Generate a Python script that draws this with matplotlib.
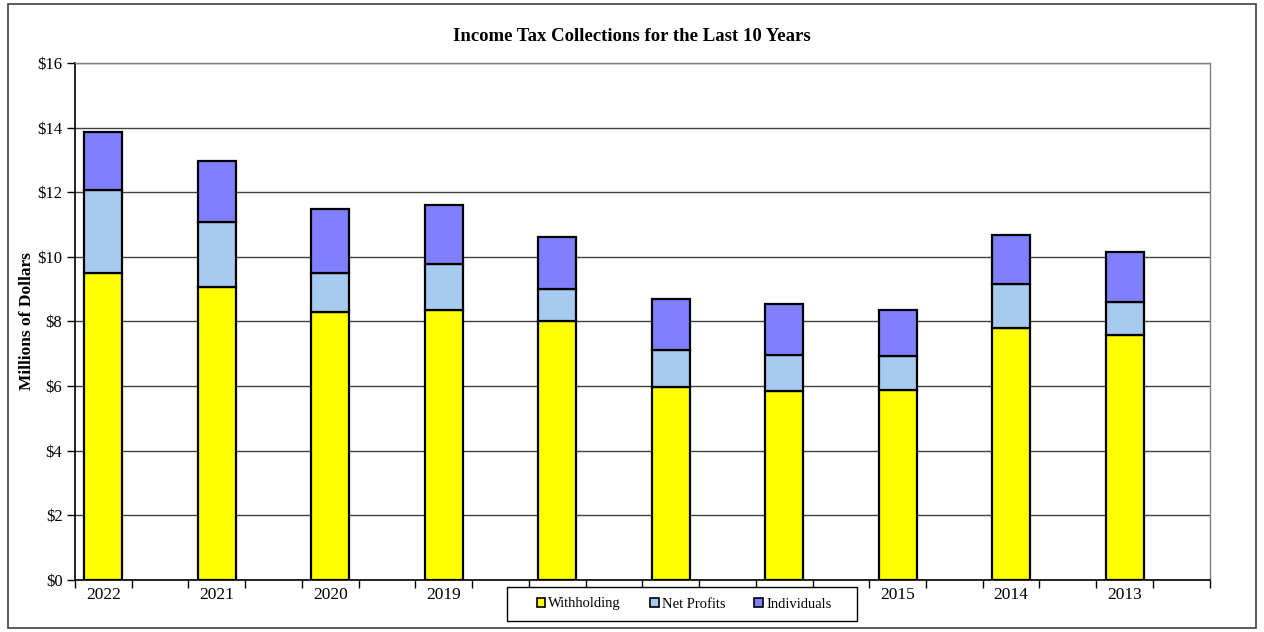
import matplotlib
matplotlib.use("Agg")
import matplotlib.pyplot as plt
import numpy as np
from matplotlib.patches import Rectangle

years = ["2022", "2021", "2020", "2019", "2018", "2017", "2016", "2015", "2014", "2013"]
withholding = [9.50, 9.08, 8.28, 8.36, 8.02, 5.96, 5.86, 5.89, 7.81, 7.59]
net_profits = [2.56, 1.99, 1.23, 1.42, 1.00, 1.15, 1.10, 1.03, 1.36, 1.00]
individuals = [1.81, 1.90, 1.97, 1.83, 1.59, 1.59, 1.58, 1.44, 1.52, 1.55]
series_names = ["Withholding", "Net Profits", "Individuals"]
colors = ["#FFFF00", "#A6CAF0", "#8080FF"]
yticks = [0, 2, 4, 6, 8, 10, 12, 14, 16]

plt.rcParams['font.family'] = ['Liberation Serif', 'DejaVu Serif']

W, H = 1264, 632
fig = plt.figure(figsize=(W / 100, H / 100), dpi=100)
fig.patches.append(Rectangle((0.006, 0.006), 0.988, 0.988, transform=fig.transFigure,
                             fill=False, edgecolor='#404040', lw=1.2))
ax = fig.add_axes([0.0593, 0.0823, 0.8977, 0.818])

pos = np.arange(len(years)) * 2
w = np.array(withholding)
n = np.array(net_profits)
i = np.array(individuals)
bw = 0.67
ekw = dict(edgecolor='black', linewidth=1.6, width=bw, zorder=3)
b1 = ax.bar(pos, w, color=colors[0], label=series_names[0], **ekw)
b2 = ax.bar(pos, n, bottom=w, color=colors[1], label=series_names[1], **ekw)
b3 = ax.bar(pos, i, bottom=w + n, color=colors[2], label=series_names[2], **ekw)

ax.set_xlim(-0.5, 2 * len(years) - 0.5)
ax.set_ylim(0, 16)
ax.set_yticks(yticks)
ax.set_yticklabels([f"${v}" for v in yticks], fontsize=12)
ax.yaxis.grid(True, color='#404040', lw=1, zorder=0)
ax.set_axisbelow(True)

ax.set_xticks(np.arange(-0.5, 2 * len(years), 1))
ax.set_xticklabels([])
ax.set_xticks(pos, minor=True)
ax.set_xticklabels(years, minor=True, fontsize=12.5)
ax.tick_params(axis='x', which='minor', length=0, pad=5)
ax.tick_params(axis='x', which='major', length=6, width=1, color='black', direction='out')
ax.tick_params(axis='y', length=6, width=1, direction='out', pad=3)

for s in ['left', 'bottom']:
    ax.spines[s].set_color('black')
    ax.spines[s].set_linewidth(1.2)
for s in ['top', 'right']:
    ax.spines[s].set_color('#808080')
    ax.spines[s].set_linewidth(1)

ax.set_ylabel("Millions of Dollars", fontsize=12.5, fontweight='bold', labelpad=2)
fig.text(0.5, 0.942, "Income Tax Collections for the Last 10 Years", ha='center', va='center',
         fontsize=13.5, fontweight='bold')

# legend box (covers some x labels as in the reference)
fig.patches.append(Rectangle((507 / W, 1 - 621 / H), 350 / W, 34 / H, transform=fig.transFigure,
                             facecolor='white', edgecolor='black', lw=1, zorder=4))
leg = fig.legend(handles=[b1, b2, b3], labels=series_names, loc='center',
                 bbox_to_anchor=(684 / W, 1 - 604 / H), ncol=3, frameon=False,
                 fontsize=10.5, handlelength=0.6, handleheight=0.6, handletextpad=0.2,
                 columnspacing=2.0, borderpad=0.3)
leg.set_zorder(5)
for h in leg.legend_handles:
    h.set_linewidth(1.2)

fig.savefig("out.png", dpi=100)
